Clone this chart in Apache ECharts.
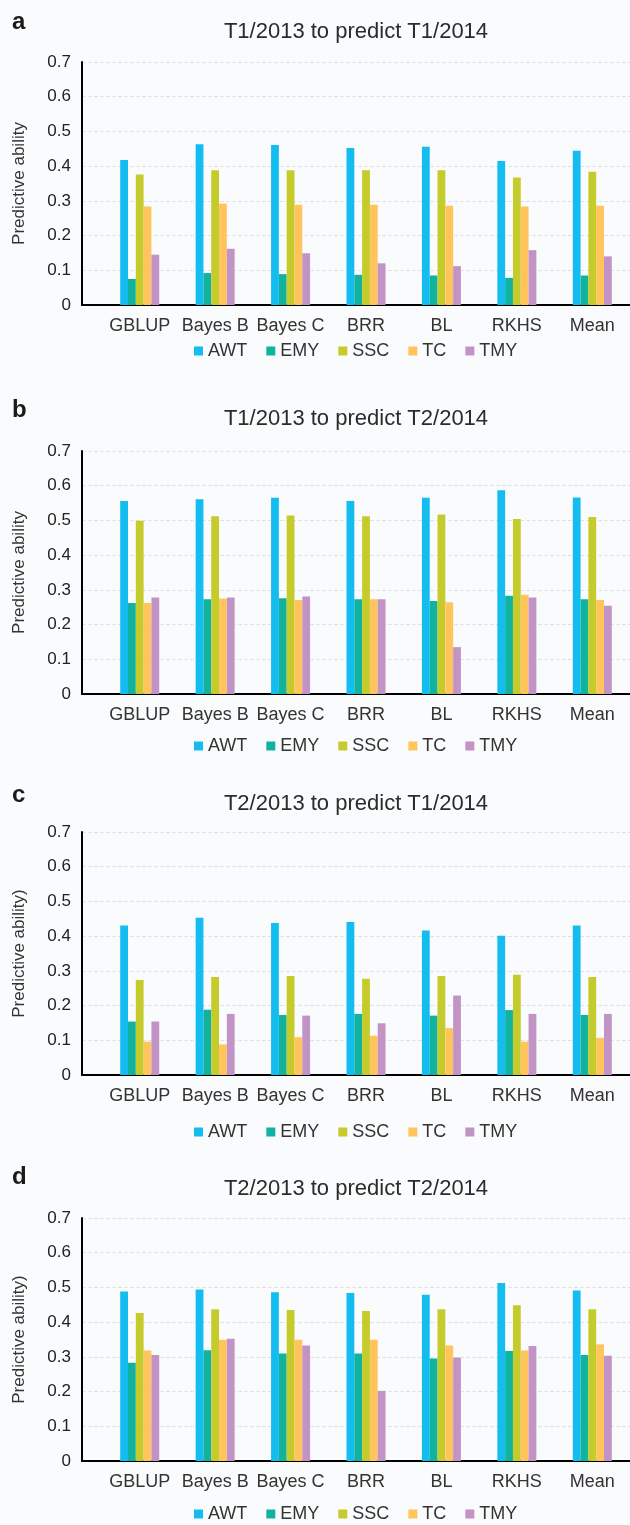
<!DOCTYPE html>
<html>
<head>
<meta charset="utf-8">
<script src="https://cdn.jsdelivr.net/npm/echarts@6/dist/echarts.min.js"></script>
<style>
    html, body { margin: 0; padding: 0; background: #fafbfc; }
    #chart { width: 630px; height: 1525px; }
</style>
</head>
<body>
<div id="chart"></div>
<script>
var methods = ['GBLUP', 'Bayes B', 'Bayes C', 'BRR', 'BL', 'RKHS', 'Mean'];
var traits = ['AWT', 'EMY', 'SSC', 'TC', 'TMY'];
var traitColors = ['#13bdf0', '#12b39e', '#c5cb2b', '#ffc55c', '#c294c6'];

// a: T1/2013 -> T1/2014
var awtA = [0.418, 0.463, 0.461, 0.452, 0.456, 0.415, 0.444];
var emyA = [0.075, 0.092, 0.089, 0.087, 0.085, 0.078, 0.085];
var sscA = [0.376, 0.388, 0.388, 0.388, 0.388, 0.367, 0.384];
var tcA  = [0.284, 0.292, 0.289, 0.289, 0.286, 0.284, 0.286];
var tmyA = [0.145, 0.162, 0.149, 0.120, 0.112, 0.158, 0.140];

// b: T1/2013 -> T2/2014
var awtB = [0.556, 0.561, 0.565, 0.556, 0.565, 0.587, 0.566];
var emyB = [0.262, 0.273, 0.276, 0.273, 0.268, 0.283, 0.273];
var sscB = [0.499, 0.512, 0.514, 0.512, 0.517, 0.504, 0.510];
var tcB  = [0.262, 0.275, 0.271, 0.273, 0.264, 0.286, 0.271];
var tmyB = [0.278, 0.278, 0.281, 0.273, 0.135, 0.278, 0.254];

// c: T2/2013 -> T1/2014
var awtC = [0.431, 0.453, 0.438, 0.441, 0.416, 0.401, 0.431];
var emyC = [0.154, 0.188, 0.173, 0.176, 0.171, 0.187, 0.173];
var sscC = [0.274, 0.282, 0.285, 0.277, 0.285, 0.289, 0.282];
var tcC  = [0.096, 0.088, 0.109, 0.113, 0.135, 0.096, 0.107];
var tmyC = [0.154, 0.176, 0.171, 0.149, 0.229, 0.176, 0.176];

// d: T2/2013 -> T2/2014
var awtD = [0.488, 0.494, 0.486, 0.484, 0.479, 0.513, 0.491];
var emyD = [0.283, 0.319, 0.310, 0.310, 0.295, 0.317, 0.305];
var sscD = [0.426, 0.437, 0.435, 0.432, 0.437, 0.449, 0.437];
var tcD  = [0.318, 0.349, 0.349, 0.349, 0.333, 0.318, 0.336];
var tmyD = [0.305, 0.352, 0.333, 0.202, 0.298, 0.331, 0.303];

var panels = [
    {letter: 'a', title: 'T1/2013 to predict T1/2014', yName: 'Predictive ability', values: [awtA, emyA, sscA, tcA, tmyA], top: 62, letterY: 23, titleY: 33, legendY: 352},
    {letter: 'b', title: 'T1/2013 to predict T2/2014', yName: 'Predictive ability', values: [awtB, emyB, sscB, tcB, tmyB], top: 451, letterY: 411, titleY: 420, legendY: 747},
    {letter: 'c', title: 'T2/2013 to predict T1/2014', yName: 'Predictive ability)', values: [awtC, emyC, sscC, tcC, tmyC], top: 832, letterY: 796, titleY: 805, legendY: 1133},
    {letter: 'd', title: 'T2/2013 to predict T2/2014', yName: 'Predictive ability)', values: [awtD, emyD, sscD, tcD, tmyD], top: 1218, letterY: 1178, titleY: 1190, legendY: 1515}
];

var font = '"Liberation Sans", Arial, sans-serif';
var plotH = 243;

var option = {
    backgroundColor: '#fafbfc',
    animation: false,
    title: [],
    legend: [],
    grid: [],
    xAxis: [],
    yAxis: [],
    series: []
};

panels.forEach(function (p, i) {
    var g0 = i * 2, g1 = i * 2 + 1;
    // panel letter
    option.title.push({
        text: p.letter, left: 12, top: p.letterY - 13, padding: 0,
        textStyle: {fontFamily: font, fontSize: 24, fontWeight: 'bold', color: '#1a1a1a'}
    });
    // panel title
    option.title.push({
        text: p.title, left: 356, textAlign: 'center', top: p.titleY - 12, padding: 0,
        textStyle: {fontFamily: font, fontSize: 22, fontWeight: 'normal', color: '#2b2b2b'}
    });
    option.legend.push({
        data: traits, left: 194, top: p.legendY - 10, padding: 0,
        icon: 'rect', itemWidth: 9, itemHeight: 9, itemGap: 19,
        textStyle: {fontFamily: font, fontSize: 18, color: '#333'}
    });
    // frame grid with the axes lines
    option.grid.push({left: 82, right: 0, top: p.top, height: plotH});
    // bar grid, first band starts a bit right of the axis, last one runs off the edge
    option.grid.push({left: 102, right: -14, top: p.top, height: plotH});

    option.xAxis.push({
        gridIndex: g0, type: 'value', min: 0, max: 1,
        axisLine: {show: true, lineStyle: {color: '#000', width: 2}},
        axisTick: {show: false}, axisLabel: {show: false}, splitLine: {show: false}
    });
    option.xAxis.push({
        gridIndex: g1, type: 'category', data: methods,
        axisLine: {show: false}, axisTick: {show: false},
        axisLabel: {interval: 0, margin: 12, fontFamily: font, fontSize: 18, color: '#333'}
    });
    option.yAxis.push({
        gridIndex: g0, type: 'value', min: 0, max: 0.7, interval: 0.1,
        name: p.yName, nameLocation: 'middle', nameGap: 54,
        nameTextStyle: {fontFamily: font, fontSize: 17, color: '#333'},
        axisLine: {show: true, lineStyle: {color: '#000', width: 2}},
        axisTick: {show: false},
        axisLabel: {margin: 11, fontFamily: font, fontSize: 17, color: '#222'},
        splitLine: {show: true, lineStyle: {color: '#e3e3e3', type: 'dashed', width: 1}}
    });
    option.yAxis.push({
        gridIndex: g1, type: 'value', min: 0, max: 0.7, show: false, splitLine: {show: false}
    });

    traits.forEach(function (t, k) {
        option.series.push({
            name: t, type: 'bar', xAxisIndex: g1, yAxisIndex: g1,
            data: p.values[k], barWidth: 7.8, barGap: '0%',
            itemStyle: {color: traitColors[k]}
        });
    });
});

var chart = echarts.init(document.getElementById('chart'));
chart.setOption(option);
</script>
</body>
</html>
